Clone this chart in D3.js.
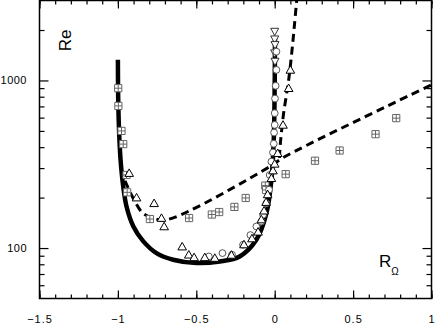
<!DOCTYPE html>
<html lang="en">
<head>
    <meta charset="UTF-8">
    <title>Re vs R_Omega</title>
    <style>
        body { margin: 0; background: #fff; }
        text { font-family: "Liberation Sans", Arial, sans-serif; fill: #000; }
        .tick text { font-size: 11px; }
        .axis-label { font-size: 17px; }
    </style>
</head>
<body>

    <svg width="436" height="325"></svg>

    <script src="https://d3js.org/d3.v7.min.js"></script>
    <script>

        // Values: [R_Omega, Re]
        const solidCurve = [
            [-1.000, 1330], [-0.998, 770], [-0.992, 485], [-0.983, 336], [-0.966, 233],
            [-0.945, 177], [-0.902, 135], [-0.839, 110], [-0.754, 93.3], [-0.648, 85.2],
            [-0.500, 81.4], [-0.350, 83.2], [-0.223, 89.1], [-0.117, 112], [-0.053, 161],
            [-0.021, 255], [-0.006, 442], [0.000, 963], [0.002, 1800]
        ];

        const dashedLow = [
            [-0.955, 252], [-0.892, 190], [-0.839, 161], [-0.775, 151], [-0.690, 147.5],
            [-0.032, 306], [0.053, 346], [1.000, 941]
        ];

        const dashedSteep = [
            [0.030, 345], [0.036, 420], [0.046, 520], [0.058, 650], [0.075, 820],
            [0.092, 1060], [0.110, 1500], [0.125, 2100], [0.140, 3000]
        ];

        const squares = [
            [-0.998, 899], [-0.997, 705], [-0.977, 500], [-0.966, 417], [-0.945, 273],
            [-0.941, 215], [-0.796, 149], [-0.546, 151], [-0.401, 158.5], [-0.354, 164],
            [-0.257, 176], [-0.185, 199], [-0.060, 236], [-0.055, 222], [0.070, 276],
            [0.257, 332], [0.414, 382], [0.643, 478], [0.775, 596]
        ];

        const triangles = [
            [-0.928, 280], [-0.881, 200], [-0.769, 185], [-0.722, 151], [-0.705, 134.5],
            [-0.590, 102], [-0.548, 91.2], [-0.514, 88], [-0.446, 88], [-0.382, 87.2],
            [-0.276, 91], [-0.196, 105], [-0.145, 114], [-0.106, 125], [-0.085, 148],
            [-0.068, 167], [-0.055, 188], [-0.045, 209], [-0.021, 261], [-0.011, 290],
            [0.000, 318], [0.019, 368], [0.053, 543], [0.089, 899], [0.100, 1156]
        ];

        const circles = [
            [0.011, 1486], [0.011, 1156], [0.006, 929], [0.002, 780], [0.000, 638],
            [0.000, 543], [-0.004, 489], [-0.006, 419], [-0.011, 372], [-0.021, 328],
            [-0.032, 273], [-0.036, 223], [-0.053, 185], [-0.074, 158], [-0.085, 144],
            [-0.117, 134.5], [-0.155, 119.5], [-0.202, 104.6], [-0.272, 91.2],
            [-0.333, 93.3], [-0.420, 89.1]
        ];

        const downTriangles = [
            [0.000, 1957], [0.000, 1762], [0.002, 1630], [0.000, 1455], [0.002, 1297]
        ];

        const xMajorTicks = [-1.5, -1, -0.5, 0, 0.5, 1];
        const xMinorTicks = d3.range(-15, 11).map(function (i) { return i / 10; });
        const yMajorTicks = [100, 1000];
        const yMinorTicks = [60, 70, 80, 90, 200, 300, 400, 500, 600, 700, 800, 900, 2000];

        const svg = d3.select('svg');

        const plotLeft = 39.5, plotRight = 431.5, plotTop = 0.5, plotBottom = 298.5;

        const xScale = d3.scaleLinear().domain([-1.5, 1]).range([plotLeft, plotRight]);
        const yScale = d3.scaleLog().domain([50, 3000]).range([plotBottom, plotTop]);

        const xValue = function (d) { return xScale(d[0]); };
        const yValue = function (d) { return yScale(d[1]); };

        svg.append('clipPath')
            .attr('id', 'plot-clip')
            .append('rect')
            .attr('x', plotLeft).attr('y', plotTop)
            .attr('width', plotRight - plotLeft).attr('height', plotBottom - plotTop);

        // Axes: ticks point inward on all four sides
        function drawAxis(axis, transform, labels) {
            const g = svg.append('g')
                .attr('transform', transform)
                .call(axis);
            g.select('.domain').remove();
            g.selectAll('.tick line').attr('stroke', '#000').attr('stroke-width', 1.2);
            if (!labels) g.selectAll('.tick text').remove();
            return g;
        }

        drawAxis(d3.axisBottom(xScale).tickValues(xMinorTicks).tickSize(-4).tickSizeOuter(0),
            'translate(0,' + plotBottom + ')', false);
        drawAxis(d3.axisBottom(xScale).tickValues(xMajorTicks).tickSize(-8).tickSizeOuter(0)
            .tickPadding(17).tickFormat(d3.format('')),
            'translate(0,' + plotBottom + ')', true)
            .selectAll('.tick text').style('letter-spacing', '1px');
        drawAxis(d3.axisTop(xScale).tickValues(xMinorTicks).tickSize(-4).tickSizeOuter(0),
            'translate(0,' + plotTop + ')', false);
        drawAxis(d3.axisTop(xScale).tickValues(xMajorTicks).tickSize(-8).tickSizeOuter(0),
            'translate(0,' + plotTop + ')', false);

        drawAxis(d3.axisLeft(yScale).tickValues(yMinorTicks).tickSize(-5).tickSizeOuter(0),
            'translate(' + plotLeft + ',0)', false);
        drawAxis(d3.axisLeft(yScale).tickValues(yMajorTicks).tickSize(-9).tickSizeOuter(0)
            .tickPadding(12.5).tickFormat(d3.format('')),
            'translate(' + plotLeft + ',0)', true)
            .selectAll('.tick text').style('letter-spacing', '0.5px');
        drawAxis(d3.axisRight(yScale).tickValues(yMinorTicks).tickSize(-5).tickSizeOuter(0),
            'translate(' + plotRight + ',0)', false);
        drawAxis(d3.axisRight(yScale).tickValues(yMajorTicks).tickSize(-9).tickSizeOuter(0),
            'translate(' + plotRight + ',0)', false);

        svg.append('rect')
            .attr('x', plotLeft).attr('y', plotTop)
            .attr('width', plotRight - plotLeft).attr('height', plotBottom - plotTop)
            .attr('fill', 'none')
            .attr('stroke', '#000')
            .attr('stroke-width', 1.5);

        // Curves
        const line = d3.line().x(xValue).y(yValue).curve(d3.curveCatmullRom.alpha(0.5));

        const plot = svg.append('g').attr('clip-path', 'url(#plot-clip)');

        plot.append('path')
            .datum(solidCurve)
            .attr('d', line)
            .attr('fill', 'none')
            .attr('stroke', '#000')
            .attr('stroke-width', 4.5);

        [dashedLow, dashedSteep].forEach(function (data) {
            plot.append('path')
                .datum(data)
                .attr('d', line)
                .attr('fill', 'none')
                .attr('stroke', '#000')
                .attr('stroke-width', 3)
                .attr('stroke-dasharray', '8,5');
        });

        // Markers
        const s = 3.6;
        const squarePath = 'M' + (-s) + ',' + (-s) + 'h' + (2 * s) + 'v' + (2 * s) + 'h' + (-2 * s) + 'Z' +
            'M0,' + (-s) + 'V' + s + 'M' + (-s) + ',0H' + s;
        const trianglePath = 'M0,-4.2L4.3,3.3L-4.3,3.3Z';
        const downTrianglePath = 'M0,4L4,-3.3L-4,-3.3Z';

        function drawPaths(data, d, stroke) {
            plot.append('g')
                .selectAll('path')
                .data(data)
                .enter()
                .append('path')
                .attr('transform', function (p) { return 'translate(' + xValue(p) + ',' + yValue(p) + ')'; })
                .attr('d', d)
                .attr('fill', '#fff')
                .attr('stroke', stroke)
                .attr('stroke-width', 1);
        }

        drawPaths(squares, squarePath, '#666');
        drawPaths(downTriangles, downTrianglePath, '#333');

        plot.append('g')
            .selectAll('circle')
            .data(circles)
            .enter()
            .append('circle')
            .attr('cx', xValue)
            .attr('cy', yValue)
            .attr('r', 3.4)
            .attr('fill', '#fff')
            .attr('stroke', '#555')
            .attr('stroke-width', 1);

        drawPaths(triangles, trianglePath, '#000');

        // Axis labels
        svg.append('text')
            .attr('class', 'axis-label')
            .attr('transform', 'translate(71,40.5) rotate(-90)')
            .style('text-anchor', 'middle')
            .text('Re');

        const rLabel = svg.append('text')
            .attr('class', 'axis-label')
            .attr('x', 379)
            .attr('y', 267)
            .text('R');
        rLabel.append('tspan')
            .attr('dy', 8)
            .style('font-size', '10px')
            .text('Ω');

    </script>

</body>
</html>
